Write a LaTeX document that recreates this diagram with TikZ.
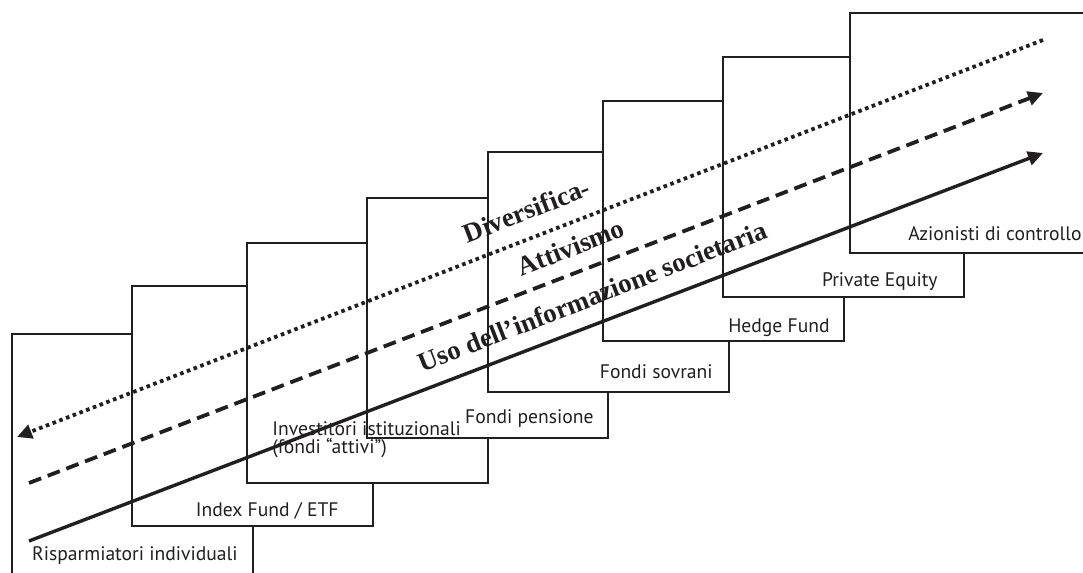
\documentclass[tikz,border=0pt]{standalone}
\usepackage{fontspec}
\setmainfont{Liberation Serif}
\setsansfont{PT Sans}
\usepackage{xcolor}
\usetikzlibrary{arrows.meta, positioning}
\definecolor{ink}{HTML}{231F20}

\begin{document}
\begin{tikzpicture}[
    x=0.5pt, y=-0.5pt,
    every node/.style={font=\sffamily\fontsize{9.8}{9}\selectfont, text=ink},
    stair/.style={rectangle, draw=ink, line width=1.2pt, fill=white, minimum width=120.5pt, minimum height=120pt, anchor=north west, inner sep=0pt},
    tag/.style={anchor=base east, inner sep=0pt},
    trend/.style={font=\rmfamily\bfseries\fontsize{13.5}{15}\selectfont, rotate=21.3, anchor=base, inner sep=0pt},
    arrow/.style={-{Triangle[length=7.5pt, width=7pt]}, draw=ink, line width=1.7pt},
    dots/.style={dash pattern=on 1.8pt off 1.8pt, line width=1.9pt},
    dashes/.style={dash pattern=on 6.5pt off 3.5pt, line width=1.9pt}
]

\clip (0,0) rectangle (1083,573);

% the steps, from the left
\node[stair] (risp) at (11,333) {};
\node[stair] (index) at (131,285) {};
\node[stair] (istit) at (246,242) {};
\node[stair] (pens) at (366,197) {};
\node[stair] (sovr) at (487,151) {};
\node[stair] (hedge) at (602,100) {};
\node[stair] (priv) at (722,56) {};
\node[stair] (ctrl) at (849,12) {};

% their labels
\node[tag] (risp-t) at (238,560) {Risparmiatori individuali};
\node[tag] (index-t) at (339,516) {Index Fund / ETF};
\node[anchor=base west, inner sep=0pt, align=left] (istit-t) at (272,453) {Investitori istituzionali\\(fondi “attivi”)};
\node[tag] (pens-t) at (594,423) {Fondi pensione};
\node[tag] (sovr-t) at (713,378) {Fondi sovrani};
\node[tag] (hedge-t) at (830,332) {Hedge Fund};
\node[tag] (priv-t) at (938,286) {Private Equity};
\node[tag] (ctrl-t) at (1082,240) {Azionisti di controllo};

% trends
\coordinate (dot-l) at (17,437);
\coordinate (dot-r) at (1043,40);
\coordinate (dash-l) at (29,483);
\coordinate (dash-r) at (1043,93);
\coordinate (line-l) at (29,541);
\coordinate (line-r) at (1043,153);

\draw[arrow, dots] (dot-r) -- (dot-l);
\draw[arrow, dashes] (dash-l) -- (dash-r);
\draw[arrow] (line-l) -- (line-r);

\node[trend] (divers) at (530,219) {Diversifica-};
\node[trend] (attiv) at (574,256) {Attivismo};
\node[trend] (uso) at (596,305) {Uso dell’informazione societaria};

\end{tikzpicture}
\end{document}
